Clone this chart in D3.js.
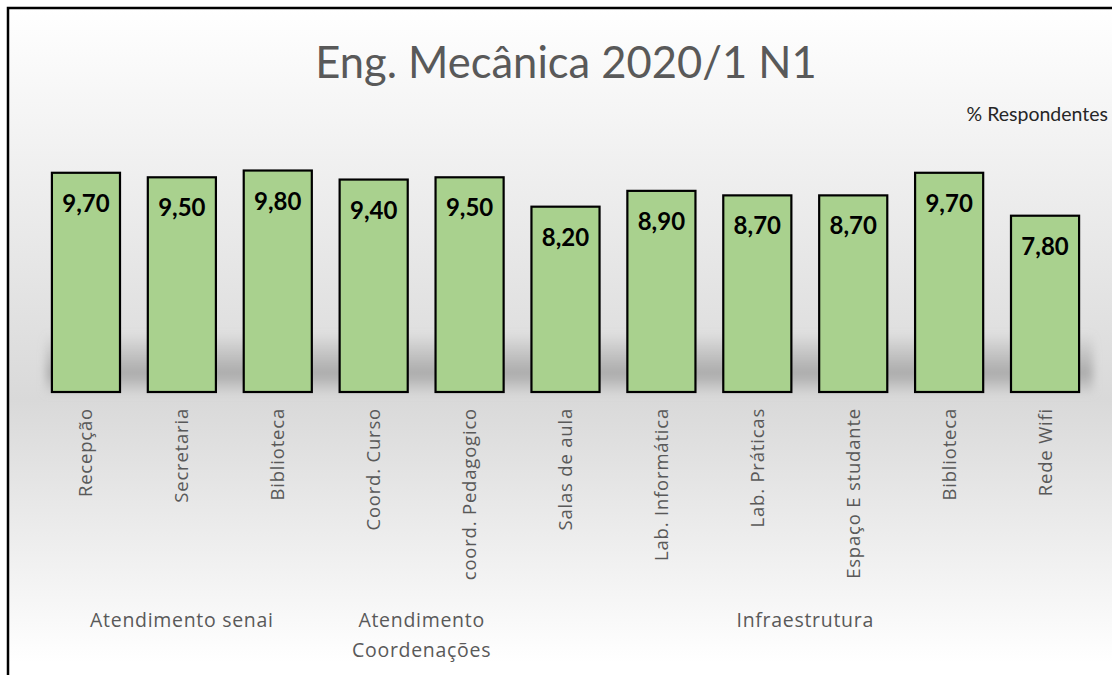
<!DOCTYPE html>
<html>
<head>
<meta charset="utf-8">
<script src="https://cdn.jsdelivr.net/npm/d3@7"></script>
<style>
  body { margin: 0; background: #fff; }
  svg { display: block; font-family: Lato, "Open Sans", sans-serif; }
</style>
</head>
<body>
<svg id="chart" width="1112" height="675"></svg>
<script>
var categories = ["Recepção", "Secretaria", "Biblioteca", "Coord. Curso", "coord. Pedagogico",
  "Salas de aula", "Lab. Informática", "Lab. Práticas", "Espaço E studante", "Biblioteca", "Rede Wifi"];
var values = [9.7, 9.5, 9.8, 9.4, 9.5, 8.2, 8.9, 8.7, 8.7, 9.7, 7.8];
var groups = [
  { label: ["Atendimento senai"], from: 0, to: 2 },
  { label: ["Atendimento", "Coordenações"], from: 3, to: 4 },
  { label: ["Infraestrutura"], from: 5, to: 10 }
];
var title = "Eng. Mecânica 2020/1 N1";
var note = "% Respondentes";

var width = 1112, height = 675;
var margin = { top: 166, right: 19, bottom: 283, left: 38 };
var svg = d3.select("#chart");

var defs = svg.append("defs");
var bg = defs.append("linearGradient").attr("id", "bg")
  .attr("x1", 0).attr("y1", 0).attr("x2", 0).attr("y2", 1);
bg.append("stop").attr("offset", "0%").attr("stop-color", "#ffffff");
bg.append("stop").attr("offset", "58%").attr("stop-color", "#d9d9d9");
bg.append("stop").attr("offset", "97%").attr("stop-color", "#ffffff");

var sh = defs.append("linearGradient").attr("id", "shadow")
  .attr("x1", 0).attr("y1", 0).attr("x2", 0).attr("y2", 1);
sh.append("stop").attr("offset", "0%").attr("stop-color", "#9a9a9a").attr("stop-opacity", 0);
sh.append("stop").attr("offset", "70%").attr("stop-color", "#9a9a9a").attr("stop-opacity", 0.75);
sh.append("stop").attr("offset", "100%").attr("stop-color", "#bdbdbd").attr("stop-opacity", 0.4);
defs.append("filter").attr("id", "blur").attr("x", "-5%").attr("y", "-50%")
  .attr("width", "110%").attr("height", "200%")
  .append("feGaussianBlur").attr("stdDeviation", 4);

svg.append("rect")
  .attr("x", 8).attr("y", 8).attr("width", width).attr("height", height)
  .attr("fill", "url(#bg)").attr("stroke", "#000").attr("stroke-width", 2.5);

var x = d3.scaleBand()
  .domain(d3.range(categories.length))
  .range([margin.left, width - margin.right])
  .paddingInner(0.29).paddingOuter(0.145);

var y = d3.scaleLinear()
  .domain([0, 10])
  .range([height - margin.bottom, margin.top]);

// floor shadow behind bars
svg.append("rect")
  .attr("x", x.range()[0] + 8).attr("y", y(2.6))
  .attr("width", x.range()[1] - x.range()[0] - 8).attr("height", y(0) - y(2.6))
  .attr("fill", "url(#shadow)")
  .attr("filter", "url(#blur)");

svg.append("text")
  .attr("x", width / 2 + 10).attr("y", 78)
  .attr("text-anchor", "middle")
  .attr("fill", "#595959")
  .style("font-size", "43.5px")
  .text(title);

svg.append("text")
  .attr("x", 1108).attr("y", 121)
  .attr("text-anchor", "end")
  .attr("fill", "#262626")
  .style("font-size", "19.5px")
  .text(note);

var bars = svg.append("g");
bars.selectAll("rect")
  .data(values)
  .join("rect")
  .attr("x", (d, i) => x(i))
  .attr("y", d => y(d))
  .attr("width", x.bandwidth())
  .attr("height", d => y(0) - y(d))
  .attr("fill", "#a9d18e")
  .attr("stroke", "#000")
  .attr("stroke-width", 2.2);

bars.selectAll("text")
  .data(values)
  .join("text")
  .attr("x", (d, i) => x(i) + x.bandwidth() / 2)
  .attr("y", d => y(d) + 39)
  .attr("text-anchor", "middle")
  .attr("fill", "#000")
  .style("font-size", "24px")
  .style("font-weight", "bold")
  .text(d => d3.format(".2f")(d).replace(".", ","));

var xAxis = d3.axisBottom(x).tickSize(0).tickFormat(i => categories[i]);
var gx = svg.append("g")
  .attr("transform", `translate(0,${y(0)})`)
  .call(xAxis);
gx.select(".domain").remove();
gx.selectAll("text")
  .attr("transform", "rotate(-90)")
  .attr("x", -16).attr("y", 0).attr("dy", "0.35em")
  .attr("text-anchor", "end")
  .attr("fill", "#595959")
  .style("font-size", "18.5px")
  .style("letter-spacing", "0.8px")
  .style("font-family", "'Open Sans', sans-serif");

var gl = svg.append("g");
groups.forEach(g => {
  var cx = (x(g.from) + x(g.to) + x.bandwidth()) / 2;
  var t = gl.append("text")
    .attr("x", cx).attr("y", 627)
    .attr("text-anchor", "middle")
    .attr("fill", "#595959")
    .style("font-size", "19.5px")
    .style("letter-spacing", "0.7px")
    .style("font-family", "'Open Sans', sans-serif");
  g.label.forEach((l, k) => {
    t.append("tspan").attr("x", cx).attr("dy", k ? 30 : 0).text(l);
  });
});
</script>
</body>
</html>
